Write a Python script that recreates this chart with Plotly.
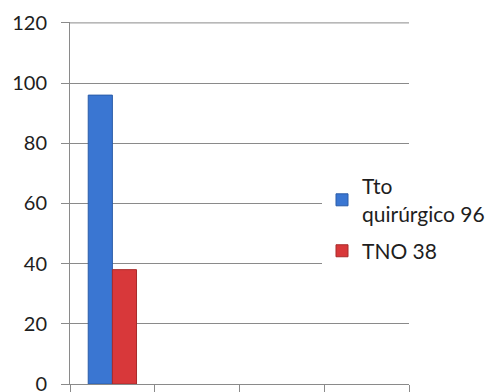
import plotly.graph_objects as go

# Four category slots on the x axis; only the first one holds data
slots = [0, 1, 2, 3]
series_names = ["Tto<br>quirúrgico 96", "TNO 38"]
series_values = [[96], [38]]
series_colors = ["#3a76d2", "#d8383a"]
series_edges = ["#2a5ca8", "#a82a2a"]
y_ticks = [0, 20, 40, 60, 80, 100, 120]

fig = go.Figure()
for i, (name, vals, col, edge) in enumerate(zip(series_names, series_values, series_colors, series_edges)):
    fig.add_trace(go.Bar(
        x=slots[:len(vals)], y=vals, name=name, legendgroup=f"g{i}",
        marker=dict(color=col, line=dict(color=edge, width=1)),
    ))

grid = "#8a8a8a"

# top gridline sits on the edge of the plotting area, draw it explicitly
fig.add_shape(type="line", xref="paper", yref="y", x0=0, x1=1,
              y0=y_ticks[-1], y1=y_ticks[-1], line=dict(color=grid, width=1),
              layer="below")

fig.update_layout(
    width=493, height=392,
    margin=dict(l=70, r=84, t=22, b=8, autoexpand=False),
    paper_bgcolor="white", plot_bgcolor="white",
    barmode="group", bargap=0.43, bargroupgap=0,
    font=dict(family="Lato, 'Open Sans', sans-serif", size=20, color="#1e1e1e"),
    showlegend=True,
    legend=dict(
        x=(322 - 70) / 339, xanchor="left",
        y=(384 - 166) / 362, yanchor="top",
        bgcolor="white", borderwidth=0,
        font=dict(size=21, color="#1e1e1e"),
        itemwidth=30, tracegroupgap=7,
    ),
    xaxis=dict(
        range=[-0.5, 3.5], showgrid=False, zeroline=False,
        showline=True, linecolor=grid, linewidth=1,
        tickmode="array", tickvals=[-0.5, 0.5, 1.5, 2.5, 3.5],
        ticks="outside", ticklen=8, tickcolor=grid, showticklabels=False,
    ),
    yaxis=dict(
        range=[0, 120.3], tickmode="array", tickvals=y_ticks,
        showgrid=True, gridcolor=grid, gridwidth=1, zeroline=False,
        showline=True, linecolor=grid, linewidth=1,
        ticks="outside", ticklen=8, tickcolor=grid,
        tickfont=dict(size=20, color="#1e1e1e"), ticklabelstandoff=10,
        ticklabeloverflow="allow",
    ),
)

fig.write_html("out.html")
